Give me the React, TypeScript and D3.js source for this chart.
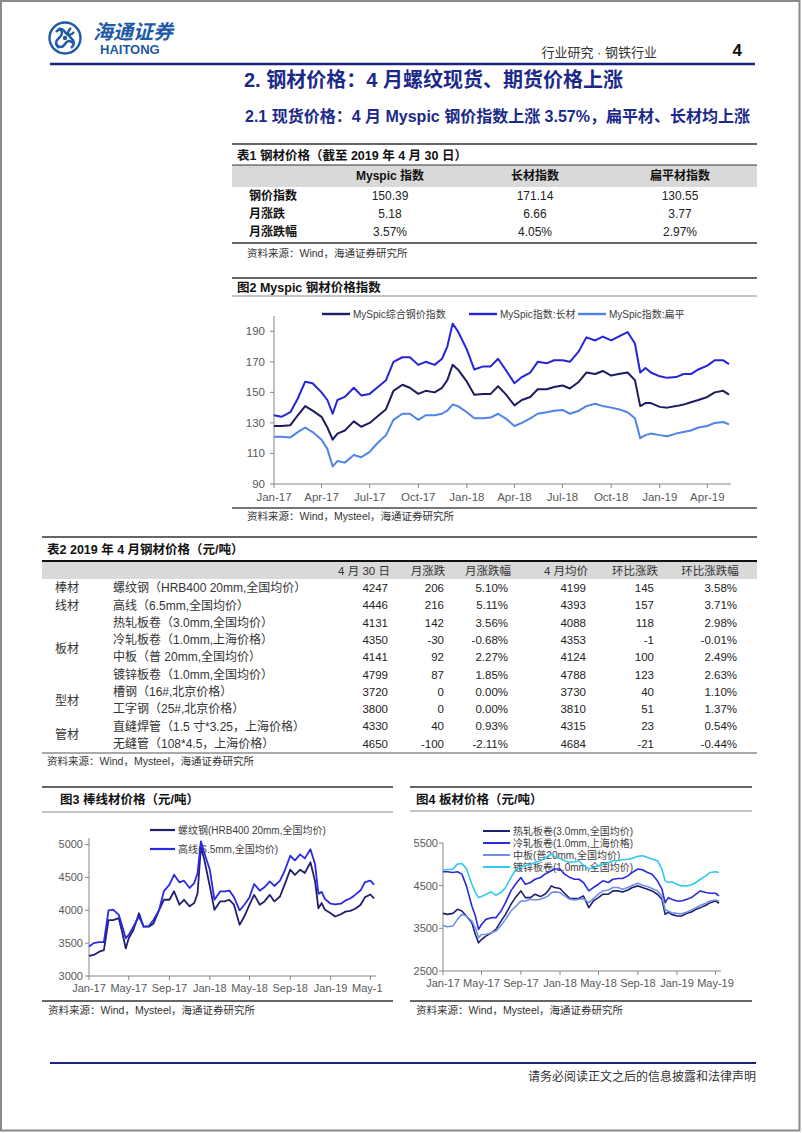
import React from 'react';
import * as d3 from 'd3';

const FONT = "'Liberation Sans', Arial, 'Noto Sans CJK SC', sans-serif";
const NAVY = '#1b2a8a';
const AXIS = '#868686';
const TICK_TEXT = '#595959';

// 表1 钢价指数
const idxCols = ['Myspic 指数', '长材指数', '扁平材指数'];
const idxRows = ['钢价指数', '月涨跌', '月涨跌幅'];
const idxValues = [
  ['150.39', '171.14', '130.55'],
  ['5.18', '6.66', '3.77'],
  ['3.57%', '4.05%', '2.97%'],
];

// 表2 钢材价格
const priceHeads = ['4 月 30 日', '月涨跌', '月涨跌幅', '4 月均价', '环比涨跌', '环比涨跌幅'];
const priceGroups: [string, number, number][] = [
  ['棒材', 0, 0],
  ['线材', 1, 1],
  ['板材', 2, 5],
  ['型材', 6, 7],
  ['管材', 8, 9],
];
const priceItems = [
  '螺纹钢（HRB400 20mm,全国均价）',
  '高线（6.5mm,全国均价）',
  '热轧板卷（3.0mm,全国均价）',
  '冷轧板卷（1.0mm,上海价格）',
  '中板（普 20mm,全国均价）',
  '镀锌板卷（1.0mm,全国均价）',
  '槽钢（16#,北京价格）',
  '工字钢（25#,北京价格）',
  '直缝焊管（1.5 寸*3.25，上海价格）',
  '无缝管（108*4.5，上海价格）',
];
const closePrice = [4247, 4446, 4131, 4350, 4141, 4799, 3720, 3800, 4330, 4650];
const monthChg = [206, 216, 142, -30, 92, 87, 0, 0, 40, -100];
const monthPct = ['5.10%', '5.11%', '3.56%', '-0.68%', '2.27%', '1.85%', '0.00%', '0.00%', '0.93%', '-2.11%'];
const avgPrice = [4199, 4393, 4088, 4353, 4124, 4788, 3730, 3810, 4315, 4684];
const momChg = [145, 157, 118, -1, 100, 123, 40, 51, 23, -21];
const momPct = ['3.58%', '3.71%', '2.98%', '-0.01%', '2.49%', '2.63%', '1.10%', '1.37%', '0.54%', '-0.44%'];

// 图表共用日期
const dates = [
  '2017-01-01', '2017-01-15', '2017-02-01', '2017-02-15', '2017-03-01', '2017-03-15', '2017-04-01', '2017-04-12', '2017-04-22',
  '2017-05-01', '2017-05-15', '2017-06-01', '2017-06-15', '2017-07-01', '2017-07-15', '2017-08-01', '2017-08-15', '2017-09-01',
  '2017-09-15', '2017-10-01', '2017-10-15', '2017-11-01', '2017-11-15', '2017-11-25', '2017-12-05', '2017-12-15',
  '2018-01-01', '2018-01-15', '2018-02-01', '2018-02-15', '2018-03-01', '2018-03-15', '2018-04-01', '2018-04-15', '2018-05-01',
  '2018-05-15', '2018-06-01', '2018-06-15', '2018-07-01', '2018-07-15', '2018-08-01', '2018-08-15', '2018-09-01', '2018-09-15',
  '2018-10-01', '2018-10-15', '2018-11-01', '2018-11-15', '2018-11-25', '2018-12-05', '2018-12-15',
  '2019-01-01', '2019-01-15', '2019-02-01', '2019-02-15', '2019-03-01', '2019-03-15', '2019-04-01', '2019-04-15', '2019-05-01',
  '2019-05-12',
];

// 图2 Myspic
const compositeIdx = [
  128, 128, 128.5, 135, 141, 138, 134, 127, 119, 123, 125, 131, 127.5, 130, 134, 139, 151, 155, 153, 149, 151, 150, 153, 158, 168, 165,
  157, 148.5, 149, 149, 154, 149, 141.5, 145, 147, 152, 152, 153.5, 154.5, 152.5, 157, 163, 162, 164, 161, 162, 163, 158, 141, 143, 143,
  140.5, 140, 141, 142, 143.5, 145, 147, 150, 151, 148.5,
];
const longIdx = [
  135, 134, 137, 146, 157, 156, 150, 145, 136, 145, 147, 153, 148, 149, 153, 158, 170, 173, 173, 168, 170, 168, 172, 180, 195, 190,
  178, 165, 167, 167, 172, 165, 156, 160, 163, 170, 169, 171, 171, 170, 177, 186, 184, 186.5, 184, 186.5, 189.5, 182, 163, 166, 163,
  160.5, 159.5, 160, 162, 162, 165, 167.5, 171, 171, 168.5,
];
const flatIdx = [
  121, 121, 120.5, 124, 127, 124, 119, 113, 101.5, 105, 104, 109, 107.5, 111, 116.5, 122, 132, 136, 136, 132, 135, 135, 136, 138, 142, 141,
  137, 133, 133, 133.5, 136, 133, 128, 130, 133, 136, 137, 138, 138.5, 136, 138, 141, 142.5, 141, 140, 139, 137, 133, 120, 122, 123,
  122, 121.3, 123, 124, 125, 127, 128, 130, 130.6, 129,
];

// 图3 棒线材
const rebar = [
  3305, 3320, 3370, 3395, 3850, 3850, 3880, 3650, 3420, 3575, 3700, 3955, 3750, 3750, 3800, 4007, 4160, 4160, 4290, 4085, 4160, 4060, 4110, 4260, 4960, 4780,
  4363, 4007, 4135, 4135, 4160, 4085, 3778, 3905, 4085, 4235, 4085, 4135, 4235, 4135, 4210, 4390, 4618, 4540, 4618, 4567, 4730, 4440, 4030, 4110, 4007,
  3956, 3905, 3940, 3980, 3990, 4020, 4080, 4200, 4240, 4180,
];
const wireRod = [
  3448, 3500, 3515, 3515, 4000, 4010, 3930, 3750, 3575, 3625, 3750, 3905, 3750, 3760, 3855, 4007, 4287, 4390, 4540, 4425, 4450, 4340, 4415, 4567, 5050, 4880,
  4618, 4160, 4287, 4287, 4300, 4200, 4000, 4080, 4200, 4400, 4300, 4350, 4440, 4370, 4450, 4600, 4830, 4760, 4850, 4790, 4930, 4700, 4250, 4280, 4170,
  4100, 4090, 4100, 4150, 4180, 4230, 4300, 4430, 4450, 4390,
];

// 图4 板材
const hotRolled = [
  3851, 3827, 3851, 3945, 3906, 3788, 3631, 3356, 3160, 3238, 3317, 3395, 3474, 3670, 3827, 4063, 4220, 4377, 4220, 4220, 4300, 4244, 4300, 4377, 4495, 4456,
  4432, 4322, 4197, 4197, 4205, 4260, 3985, 4142, 4220, 4300, 4300, 4377, 4377, 4354, 4400, 4456, 4495, 4456, 4417, 4377, 4300, 4180, 3827, 3882, 3827,
  3788, 3788, 3851, 3882, 3945, 3985, 4040, 4102, 4142, 4087,
];
const coldRolled = [
  4825, 4825, 4810, 4825, 4770, 4495, 4024, 3790, 3474, 3590, 3710, 3750, 3750, 3906, 4102, 4377, 4534, 4690, 4534, 4574, 4650, 4690, 4770, 4810, 4850, 4890,
  4890, 4770, 4690, 4650, 4650, 4574, 4377, 4456, 4534, 4613, 4574, 4650, 4668, 4668, 4730, 4810, 4890, 4872, 4810, 4770, 4613, 4417, 4102, 4220, 4180,
  4142, 4142, 4180, 4220, 4300, 4377, 4338, 4322, 4322, 4260,
];
const mediumPlate = [
  3568, 3537, 3553, 3710, 3827, 3788, 3670, 3513, 3278, 3356, 3356, 3395, 3435, 3568, 3710, 3906, 4008, 4142, 4142, 4180, 4165, 4180, 4220, 4260, 4338, 4354,
  4338, 4260, 4180, 4165, 4180, 4197, 4102, 4197, 4300, 4377, 4400, 4456, 4456, 4417, 4456, 4511, 4558, 4511, 4480, 4432, 4377, 4260, 3930, 3906, 3867,
  3851, 3843, 3882, 3930, 3985, 4040, 4087, 4142, 4165, 4142,
];
const galvanized = [
  4872, 4872, 4890, 5005, 5020, 4900, 4534, 4338, 4220, 4244, 4300, 4354, 4275, 4340, 4455, 4690, 4872, 4940, 4966, 5005, 5045, 5084, 5140, 5200, 5240, 5180,
  5140, 5084, 5045, 5060, 5085, 4980, 4890, 4927, 4966, 5005, 5045, 5084, 5084, 5108, 5120, 5140, 5187, 5200, 5163, 5123, 5084, 4890, 4613, 4574, 4590,
  4534, 4495, 4495, 4520, 4574, 4650, 4730, 4810, 4825, 4810,
];

const parseDate = d3.timeParse('%Y-%m-%d');
const dateObjs = dates.map(d => parseDate(d) as Date);
const startDate = dateObjs[0];
const endDate = dateObjs[dateObjs.length - 1];
const fmtMonth = d3.timeFormat('%b-%y');

type Series = { name: string; values: number[]; color: string };
type LegendPos = { x: number; y: number };

type ChartProps = {
  id: string;
  left: number;
  right: number;
  top: number;
  bottom: number;
  yDomain: [number, number];
  yTicks: number[];
  xTicks: Date[];
  series: Series[];
  legend: LegendPos[];
  legendLen: number;
  lineWidth: number;
  fontSize: number;
  yLabelGap: number;
  xLabelGap: number;
  clipRight?: number;
};

function LineChart(p: ChartProps) {
  const x = d3.scaleTime().domain([startDate, endDate]).range([p.left, p.right]);
  const y = d3.scaleLinear().domain(p.yDomain).range([p.bottom, p.top]);
  const line = d3
    .line<number>()
    .x((_, i) => x(dateObjs[i]))
    .y(v => y(v));
  const clip = p.clipRight ? `url(#clip-${p.id})` : undefined;
  return (
    <g fontFamily={FONT}>
      {p.clipRight && (
        <clipPath id={`clip-${p.id}`}>
          <rect x={0} y={p.top - 40} width={p.clipRight} height={p.bottom - p.top + 80} />
        </clipPath>
      )}
      {/* 图例 */}
      {p.series.map((s, i) => (
        <g key={s.name}>
          <line
            x1={p.legend[i].x}
            x2={p.legend[i].x + p.legendLen}
            y1={p.legend[i].y}
            y2={p.legend[i].y}
            stroke={s.color}
            strokeWidth={p.lineWidth + 0.4}
          />
          <text x={p.legend[i].x + p.legendLen + 3} y={p.legend[i].y} dy="0.35em" fontSize={10} fill="#404040">
            {s.name}
          </text>
        </g>
      ))}
      {/* 坐标轴 */}
      <line x1={p.left} x2={p.left} y1={p.bottom} y2={y(p.yDomain[1])} stroke={AXIS} />
      <line x1={p.left} x2={p.right + 2} y1={p.bottom} y2={p.bottom} stroke={AXIS} />
      {p.yTicks.map(t => (
        <g key={t}>
          <line x1={p.left - 4} x2={p.left} y1={y(t)} y2={y(t)} stroke={AXIS} />
          <text x={p.left - p.yLabelGap} y={y(t)} dy="0.35em" textAnchor="end" fontSize={p.fontSize} fill={TICK_TEXT}>
            {t}
          </text>
        </g>
      ))}
      <g clipPath={clip}>
        {p.xTicks.map(t => (
          <g key={t.getTime()}>
            <line x1={x(t)} x2={x(t)} y1={p.bottom} y2={p.bottom + 4} stroke={AXIS} />
            <text x={x(t)} y={p.bottom + p.xLabelGap} dy="0.35em" textAnchor="middle" fontSize={p.fontSize} fill={TICK_TEXT}>
              {fmtMonth(t)}
            </text>
          </g>
        ))}
      </g>
      {/* 折线 */}
      {p.series.map(s => (
        <path key={s.name} d={line(s.values) || ''} fill="none" stroke={s.color} strokeWidth={p.lineWidth} strokeLinejoin="round" />
      ))}
    </g>
  );
}

function FrameTitle({ x1, x2, y, title, tx, dy = 13 }: { x1: number; x2: number; y: number; title: string; tx: number; dy?: number }) {
  return (
    <g>
      <line x1={x1} x2={x2} y1={y} y2={y} stroke="#333" strokeWidth={1.5} />
      <text x={tx} y={y + dy} dy="0.35em" fontSize={12.5} fontWeight="bold" fill="#111" fontFamily={FONT}>
        {title}
      </text>
    </g>
  );
}

function Source({ x, y }: { x: number; y: number }) {
  return (
    <text x={x} y={y} dy="0.35em" fontSize={10.5} fill="#333" fontFamily={FONT}>
      资料来源：Wind，Mysteel，海通证券研究所
    </text>
  );
}

function Logo() {
  const cx = 65;
  const cy = 38;
  return (
    <g stroke="#1f5aa6" fill="none" strokeWidth={2.4}>
      <circle cx={cx} cy={cy} r={15.5} />
      <path d={`M${cx - 9},${cy - 6} q5,-6 9,0 q4,6 9,0`} />
      <path d={`M${cx - 9},${cy + 6} q5,6 9,0 q4,-6 9,0`} />
      <path d={`M${cx - 6},${cy - 10} q6,5 0,10 q-6,5 0,10`} />
      <path d={`M${cx + 6},${cy - 10} q-6,5 0,10 q6,5 0,10`} />
      <circle cx={cx} cy={cy} r={2.2} fill="#1f5aa6" stroke="none" />
    </g>
  );
}

export default function App() {
  const rowY0 = 588;
  const rowH = 17.3;
  const numRight = [388, 444, 508, 586, 654, 737];
  const headCenter = [364, 428, 488, 566, 635, 710];
  const rowsT2 = priceItems.map((_, i) => [closePrice[i], monthChg[i], monthPct[i], avgPrice[i], momChg[i], momPct[i]]);
  const idxColX = [390, 535, 680];
  const idxRowY = [196, 214, 232];

  const quarterTicks = d3.timeMonth.range(new Date(2017, 0, 1), new Date(2019, 4, 1), 3);
  const fourMonthTicks = d3.timeMonth.range(new Date(2017, 0, 1), new Date(2019, 5, 1), 4);

  return (
    <svg
      width={802}
      height={1133}
      style={{ position: 'absolute', left: 0, top: 0, display: 'block', background: '#fff' }}
      fontFamily={FONT}
    >
      <rect x={0} y={0} width={802} height={1133} fill="#fff" />
      <rect x={1} y={1} width={798.5} height={1129.5} fill="none" stroke="#8a8a8a" strokeWidth={2} />

      {/* 页眉 */}
      <Logo />
      <text x={93} y={32} dy="0.35em" fontSize={20} fontStyle="italic" fontWeight="bold" fill="#1f5aa6">
        海通证券
      </text>
      <text x={100} y={49} dy="0.35em" fontSize={13} fontWeight="bold" fill="#1f5aa6">
        HAITONG
      </text>
      <text x={657} y={52} dy="0.35em" textAnchor="end" fontSize={13} fill="#333">
        行业研究 · 钢铁行业
      </text>
      <text x={742} y={50} dy="0.35em" textAnchor="end" fontSize={17} fontWeight="bold" fill="#111">
        4
      </text>
      <line x1={50} x2={755} y1={64} y2={64} stroke="#1a237e" strokeWidth={2.5} />

      <text x={244} y={80} dy="0.35em" fontSize={20} fontWeight="bold" fill={NAVY}>
        2. 钢材价格：4 月螺纹现货、期货价格上涨
      </text>
      <text x={245} y={116} dy="0.35em" fontSize={16} fontWeight="bold" fill={NAVY}>
        2.1 现货价格：4 月 Myspic 钢价指数上涨 3.57%，扁平材、长材均上涨
      </text>

      {/* 表1 */}
      <FrameTitle x1={232} x2={757} y={144} title="表1  钢材价格（截至 2019 年 4 月 30 日）" tx={237} dy={12} />
      <rect x={232} y={165} width={525} height={22} fill="#d9d9d9" />
      <line x1={232} x2={757} y1={165} y2={165} stroke="#333" strokeWidth={1} />
      {idxCols.map((c, i) => (
        <text key={c} x={idxColX[i]} y={176} dy="0.35em" textAnchor="middle" fontSize={12} fontWeight="bold" fill="#111">
          {c}
        </text>
      ))}
      {idxRows.map((r, i) => (
        <g key={r}>
          <text x={249} y={idxRowY[i]} dy="0.35em" fontSize={12} fontWeight="bold" fill="#111">
            {r}
          </text>
          {idxValues[i].map((v, j) => (
            <text key={j} x={idxColX[j]} y={idxRowY[i]} dy="0.35em" textAnchor="middle" fontSize={12} fill="#222">
              {v}
            </text>
          ))}
        </g>
      ))}
      <line x1={232} x2={757} y1={243} y2={243} stroke="#333" strokeWidth={1.5} />
      <text x={247} y={253} dy="0.35em" fontSize={10.5} fill="#333">
        资料来源：Wind，海通证券研究所
      </text>

      {/* 图2 */}
      <FrameTitle x1={232} x2={757} y={278} title="图2   Myspic 钢材价格指数" tx={237} dy={10} />
      <line x1={232} x2={757} y1={296} y2={296} stroke="#888" strokeWidth={1} />
      <LineChart
        id="c2"
        left={274}
        right={729}
        top={316}
        bottom={484}
        yDomain={[90, 200]}
        yTicks={[90, 110, 130, 150, 170, 190]}
        xTicks={quarterTicks}
        series={[
          { name: 'MySpic综合钢价指数', values: compositeIdx, color: '#1c1c5e' },
          { name: 'MySpic指数:长材', values: longIdx, color: '#2424d8' },
          { name: 'MySpic指数:扁平', values: flatIdx, color: '#4f83e8' },
        ]}
        legend={[
          { x: 322, y: 314 },
          { x: 469, y: 314 },
          { x: 578, y: 314 },
        ]}
        legendLen={28}
        lineWidth={2}
        fontSize={11.5}
        yLabelGap={9}
        xLabelGap={13}
      />
      <line x1={232} x2={757} y1={508} y2={508} stroke="#777" strokeWidth={2} />
      <Source x={247} y={516} />

      {/* 表2 */}
      <FrameTitle x1={42} x2={757} y={537} title="表2 2019 年 4 月钢材价格（元/吨）" tx={47} />
      <rect x={42} y={562} width={715} height={17} fill="#d9d9d9" />
      <line x1={42} x2={757} y1={561} y2={561} stroke="#111" strokeWidth={2} />
      {priceHeads.map((h, i) => (
        <text key={h} x={headCenter[i]} y={571} dy="0.35em" textAnchor="middle" fontSize={11.5} fill="#333">
          {h}
        </text>
      ))}
      {priceGroups.map(([g, a, b]) => (
        <text key={g} x={67} y={rowY0 + ((a + b) / 2) * rowH} dy="0.35em" textAnchor="middle" fontSize={12} fill="#333">
          {g}
        </text>
      ))}
      {priceItems.map((name, i) => (
        <g key={name}>
          <text x={113} y={rowY0 + i * rowH} dy="0.35em" fontSize={12} fill="#333">
            {name}
          </text>
          {rowsT2[i].map((v, j) => (
            <text key={j} x={numRight[j]} y={rowY0 + i * rowH} dy="0.35em" textAnchor="end" fontSize={11.5} fill="#222">
              {v}
            </text>
          ))}
        </g>
      ))}
      <line x1={42} x2={757} y1={753} y2={753} stroke="#555" strokeWidth={1} />
      <Source x={47} y={761} />

      {/* 图3 */}
      <FrameTitle x1={42} x2={393} y={787} title="图3   棒线材价格（元/吨）" tx={60} />
      <line x1={42} x2={393} y1={812} y2={812} stroke="#888" strokeWidth={1} />
      <LineChart
        id="c3"
        left={89}
        right={374}
        top={838}
        bottom={976}
        yDomain={[3000, 5100]}
        yTicks={[3000, 3500, 4000, 4500, 5000]}
        xTicks={fourMonthTicks}
        series={[
          { name: '螺纹钢(HRB400 20mm,全国均价)', values: rebar, color: '#1f1f6e' },
          { name: '高线(6.5mm,全国均价)', values: wireRod, color: '#2a2ae6' },
        ]}
        legend={[
          { x: 150, y: 830 },
          { x: 150, y: 849 },
        ]}
        legendLen={25}
        lineWidth={1.8}
        fontSize={11}
        yLabelGap={6}
        xLabelGap={12}
        clipRight={382}
      />
      <line x1={42} x2={393} y1={1001} y2={1001} stroke="#666" strokeWidth={2} />
      <Source x={48} y={1010} />

      {/* 图4 */}
      <FrameTitle x1={410} x2={752} y={787} title="图4   板材价格（元/吨）" tx={416} />
      <line x1={410} x2={752} y1={811} y2={811} stroke="#888" strokeWidth={1} />
      <LineChart
        id="c4"
        left={443}
        right={719}
        top={843}
        bottom={971}
        yDomain={[2500, 5500]}
        yTicks={[2500, 3500, 4500, 5500]}
        xTicks={fourMonthTicks}
        series={[
          { name: '热轧板卷(3.0mm,全国均价)', values: hotRolled, color: '#1f1f6e' },
          { name: '冷轧板卷(1.0mm,上海价格)', values: coldRolled, color: '#2a2ae0' },
          { name: '中板(普20mm,全国均价)', values: mediumPlate, color: '#7090e8' },
          { name: '镀锌板卷(1.0mm,全国均价)', values: galvanized, color: '#33c8f0' },
        ]}
        legend={[
          { x: 483, y: 831 },
          { x: 483, y: 843 },
          { x: 483, y: 855 },
          { x: 483, y: 867 },
        ]}
        legendLen={27}
        lineWidth={1.6}
        fontSize={11}
        yLabelGap={5}
        xLabelGap={12}
      />
      <line x1={410} x2={752} y1={1001} y2={1001} stroke="#666" strokeWidth={2} />
      <Source x={416} y={1010} />

      {/* 页脚 */}
      <line x1={50} x2={756} y1={1063} y2={1063} stroke="#1a237e" strokeWidth={2} />
      <text x={756} y={1077} dy="0.35em" textAnchor="end" fontSize={12} fill="#333">
        请务必阅读正文之后的信息披露和法律声明
      </text>
    </svg>
  );
}
